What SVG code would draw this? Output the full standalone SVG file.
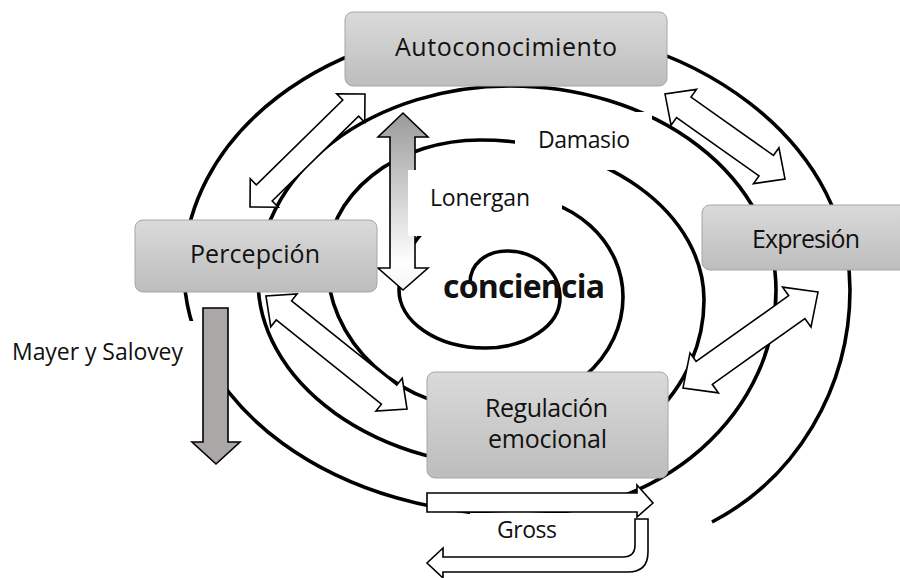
<svg xmlns="http://www.w3.org/2000/svg" width="900" height="578" viewBox="0 0 900 578">
<defs>
<linearGradient id="nodeGrad" x1="0" y1="0" x2="0" y2="1">
<stop offset="0" stop-color="#dadada"/>
<stop offset="1" stop-color="#bdbdbd"/>
</linearGradient>
<linearGradient id="vGrad" x1="0" y1="0" x2="0" y2="1">
<stop offset="0" stop-color="#9a9a9a"/>
<stop offset="0.85" stop-color="#ffffff"/>
<stop offset="1" stop-color="#f4f4f4"/>
</linearGradient>
<style>
.node rect{fill:url(#nodeGrad);stroke:#a6a6a6;stroke-width:1}
.t{font-family:"Open Sans","Liberation Sans",sans-serif;fill:#111;text-anchor:middle}
.nt{font-size:25px}
.lt{font-size:23px}
.lbl{fill:#fff;stroke:none}
.arr{fill:#fff;stroke:#000;stroke-width:1.6;stroke-linejoin:miter}
.spiral{fill:none;stroke:#000;stroke-width:3.6}
</style>
</defs>
<rect width="900" height="578" fill="#fff"/>
<g id="connectors">
<path id="spiral" class="spiral" d="M470,283 C470,264 486,251 507,251 A53,47 0 0 1 560,298 A75,50 0 0 1 485,348 A86,58 0 0 1 399,290 A112,94 0 0 1 511,196 A112,101 0 0 1 623,297 A133,113 0 0 1 490,410 A163,148 0 0 1 327,262 A153,122 0 0 1 480,140 A224,160 0 0 1 704,300 A184,168 0 0 1 520,468 A262,188 0 0 1 258,280 A252,194 0 0 1 510,86 A266,204 0 0 1 776,290 A256,225 0 0 1 520,515 A336,245 0 0 1 184,270 A321,245 0 0 1 505,25 A345,265 0 0 1 850,290 A250,260 0 0 1 712,522"/>
<path id="arrow-lonergan" d="M403,113 L428,137 L415,137 L415,268 L428,268 L403,290 L378,268 L390,268 L390,137 L378,137 Z" fill="url(#vGrad)" stroke="#000" stroke-width="1.6"/>
<rect class="lbl" x="408" y="170" width="154" height="66"/>
<rect class="lbl" x="515" y="112" width="137" height="58"/>
<rect class="lbl" x="0" y="321" width="203" height="55"/>
<rect class="lbl" x="470" y="513" width="235" height="40"/>
<polygon id="arrow-auto-perc" class="arr" transform="translate(307.5,150.5) rotate(-44.5)" points="80.6,0 60.6,-20 60.6,-11.3 -60.6,-11.3 -60.6,-20 -80.6,0 -60.6,20 -60.6,11.3 60.6,11.3 60.6,20"/>
<polygon id="arrow-auto-expr" class="arr" transform="translate(725,136.5) rotate(35.3)" points="73.5,0 50.5,-22 50.5,-12.5 -50.5,-12.5 -50.5,-22 -73.5,0 -50.5,22 -50.5,12.5 50.5,12.5 50.5,22"/>
<polygon id="arrow-perc-reg" class="arr" transform="translate(336.5,352.5) rotate(38.7)" points="90.4,0 67.4,-21 67.4,-12.3 -67.4,-12.3 -67.4,-21 -90.4,0 -67.4,21 -67.4,12.3 67.4,12.3 67.4,21"/>
<polygon id="arrow-expr-reg" class="arr" transform="translate(750.5,340) rotate(-35.4)" points="82.8,0 56.8,-24.5 56.8,-14 -56.8,-14 -56.8,-24.5 -82.8,0 -56.8,24.5 -56.8,14 56.8,14 56.8,24.5"/>
<path id="arrow-mayer" d="M203,308 L228,308 L228,442 L240,442 L216,464 L192,442 L203,442 Z" fill="#aba7a7" stroke="#000" stroke-width="1.6"/>
<path id="arrow-gross-top" class="arr" d="M427,493 L637,493 L637,485 L653,503 L637,517 L637,512 L427,512 Z"/>
<path id="arrow-gross-u" class="arr" d="M635,519 L648,519 L648,552 Q648,572 628,572 L443,572 L443,578 L427,563 L443,548 L443,557 L623,557 Q635,557 635,545 Z"/>
</g>
<g id="node-autoconocimiento" class="node">
<rect x="345" y="12" width="322" height="74" rx="8"/>
<text class="t nt" x="506" y="56" textLength="222">Autoconocimiento</text>
</g>
<g id="node-percepcion" class="node">
<rect x="135" y="220" width="242" height="72" rx="8"/>
<text class="t nt" x="255" y="263" textLength="130">Percepción</text>
</g>
<g id="node-expresion" class="node">
<rect x="702" y="205" width="210" height="65" rx="8"/>
<text class="t nt" x="806" y="248" textLength="108">Expresión</text>
</g>
<g id="node-regulacion" class="node">
<rect x="427" y="372" width="241" height="106" rx="8"/>
<text class="t nt" x="546.5" y="417" textLength="123">Regulación</text>
<text class="t nt" x="547.5" y="448" textLength="119">emocional</text>
</g>
<g id="labels">
<text class="t lt" x="584" y="148" textLength="92">Damasio</text>
<text class="t lt" x="480" y="206" textLength="100">Lonergan</text>
<text class="t lt" x="97.5" y="360" textLength="171">Mayer y Salovey</text>
<text class="t lt" x="527" y="538" textLength="60">Gross</text>
<text class="t" x="524" y="298" font-size="32" font-weight="bold" textLength="162">conciencia</text>
</g>
</svg>
